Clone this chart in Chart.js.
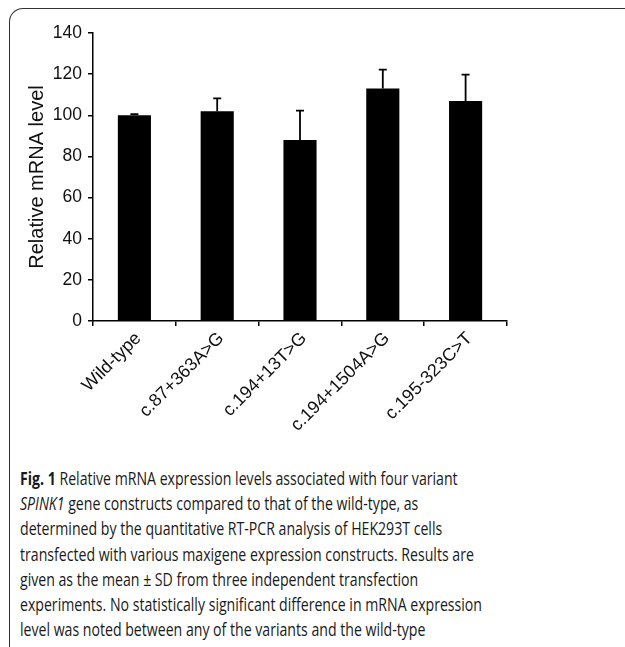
<!DOCTYPE html>
<html><head><meta charset="utf-8">
<script src="https://cdn.jsdelivr.net/npm/chart.js@4"></script>
<style>
html,body{margin:0;padding:0;background:#fff;width:625px;height:647px;overflow:hidden}
#frame{position:absolute;left:9px;top:8px;width:616px;height:639px;border-top:1.5px solid #333;border-left:1.5px solid #333;border-top-left-radius:14px;box-sizing:border-box}
#wrap{position:absolute;left:0;top:0;width:625px;height:440px}
#cap{position:absolute;left:20px;top:466px;font-family:"Open Sans";font-size:18px;line-height:25.2px;color:#1a1a1a;transform-origin:0 0;white-space:nowrap}
#cap div{height:25.2px}
</style></head><body>
<div id="frame"></div>
<div id="wrap"><canvas id="c" width="625" height="440"></canvas></div>
<div id="cap">
<div><b>Fig. 1</b> Relative mRNA expression levels associated with four variant</div>
<div><i>SPINK1</i> gene constructs compared to that of the wild-type, as</div>
<div>determined by the quantitative RT-PCR analysis of HEK293T cells</div>
<div>transfected with various maxigene expression constructs. Results are</div>
<div>given as the mean ± SD from three independent transfection</div>
<div id="l6">experiments. No statistically significant difference in mRNA expression</div>
<div>level was noted between any of the variants and the wild-type</div>
</div>
<script>
const categories = ['Wild-type', 'c.87+363A>G', 'c.194+13T>G', 'c.194+1504A>G', 'c.195-323C>T'];
const meanLevels = [100, 102, 88, 113, 107];
const sdLevels = [0.6, 6.2, 14.3, 9.2, 12.8];
const yMin = 0, yMax = 140, yStep = 20;
const yTitle = 'Relative mRNA level';

// fit caption width
(function(){
  const cap = document.getElementById('cap');
  const l6 = document.getElementById('l6');
  const r = document.createRange(); r.selectNodeContents(l6);
  const tw = r.getBoundingClientRect().width;
  cap.style.transform = 'scaleX(' + (462 / tw) + ')';
})();

const errorBars = {
  id: 'errorBars',
  afterDatasetsDraw(chart) {
    const ctx = chart.ctx, xs = chart.scales.x, ys = chart.scales.y;
    ctx.save();
    ctx.strokeStyle = '#000';
    ctx.lineWidth = 1.8;
    meanLevels.forEach((m, i) => {
      const x = xs.getPixelForValue(i);
      const y0 = ys.getPixelForValue(m);
      const y1 = ys.getPixelForValue(m + sdLevels[i]);
      ctx.beginPath();
      ctx.moveTo(x, y0); ctx.lineTo(x, y1);
      ctx.moveTo(x - 4, y1); ctx.lineTo(x + 4, y1);
      ctx.stroke();
    });
    ctx.restore();
  }
};

const axisFont = { family: '"Liberation Sans", Arial, sans-serif', size: 17.5 };
new Chart(document.getElementById('c'), {
  type: 'bar',
  data: {
    labels: categories,
    datasets: [{ data: meanLevels, backgroundColor: '#000', borderWidth: 0, barPercentage: 0.4, categoryPercentage: 1 }]
  },
  options: {
    responsive: false,
    animation: false,
    layout: { padding: { left: 0, right: 118, top: 33, bottom: 0 } },
    plugins: { legend: { display: false }, tooltip: { enabled: false } },
    scales: {
      y: {
        min: yMin, max: yMax,
        ticks: { stepSize: yStep, font: axisFont, color: '#111', padding: 6 },
        grid: { display: true, drawOnChartArea: false, drawTicks: true, tickLength: 5, color: '#000', lineWidth: 1.5 },
        border: { color: '#000', width: 1.5 },
        title: { display: true, text: yTitle, font: { family: '"Liberation Sans", Arial, sans-serif', size: 20 }, color: '#111', padding: { top: 25, bottom: 0 } },
        afterFit(s) { s.width = 93; }
      },
      x: {
        ticks: { font: { family: '"Liberation Sans", Arial, sans-serif', size: 18 }, color: '#111', minRotation: 45, maxRotation: 45, padding: 2, labelOffset: 4 },
        grid: { display: true, offset: true, drawOnChartArea: false, drawTicks: true, tickLength: 5, color: '#000', lineWidth: 1.5 },
        border: { color: '#000', width: 1.5 },
        afterFit(s) { s.height = 119; }
      }
    }
  },
  plugins: [errorBars]
});
</script>
</body></html>
